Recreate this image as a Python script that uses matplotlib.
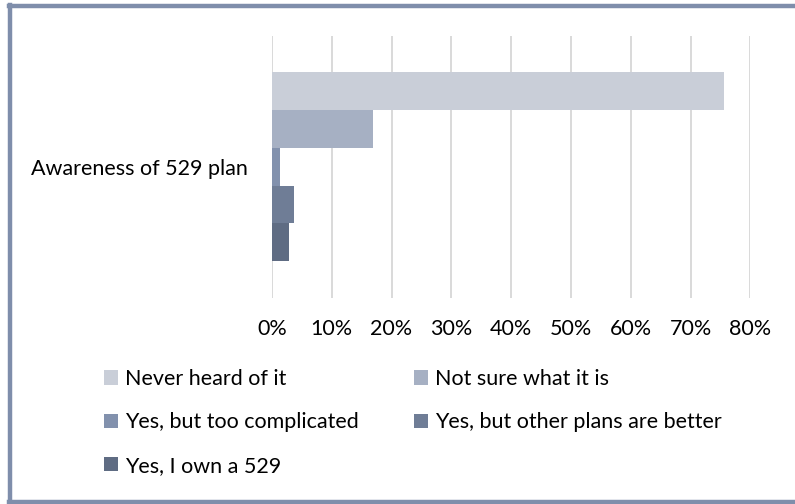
import matplotlib.pyplot as plt
from matplotlib.lines import Line2D

plt.rcParams['font.family'] = ['Lato', 'DejaVu Sans']

category = ['Awareness of 529 plan']
series = ['Never heard of it', 'Not sure what it is', 'Yes, but too complicated',
          'Yes, but other plans are better', 'Yes, I own a 529']
values = [0.756, 0.169, 0.013, 0.037, 0.028]
colors = ['#c9ced8', '#a6b0c3', '#8291ad', '#6f7d96', '#5f6c83']
xticks = [0, 0.1, 0.2, 0.3, 0.4, 0.5, 0.6, 0.7, 0.8]

fs = 15.5
fig = plt.figure(figsize=(7.95, 5.04), dpi=100)
ax = fig.add_axes([0.342, 0.409, 0.602, 0.52])

h = 0.144
bars = []
for i, (s, v, c) in enumerate(zip(series, values, colors)):
    y = 2 * h - i * h
    b = ax.barh(y, v, height=h, color=c, label=s, zorder=3)
    bars.append(b)

ax.set_ylim(-0.5, 0.5)
ax.set_xlim(0, 0.8)
ax.set_yticks([0])
ax.set_yticklabels(category)
ax.set_xticks(xticks)
ax.set_xticklabels([f'{int(round(t * 100))}%' for t in xticks])
ax.tick_params(length=0, labelsize=fs, colors='#000000')
ax.tick_params(axis='x', pad=15)
ax.tick_params(axis='y', pad=17)
ax.grid(axis='x', color='#d9d9d9', linewidth=1.4, zorder=0)
for s in ['top', 'right', 'bottom', 'left']:
    ax.spines[s].set_visible(False)

# legend laid out as two columns, row by row like the original
leg_kw = dict(loc='upper left', frameon=False, fontsize=fs, handlelength=0.65,
              handleheight=0.65, handletextpad=0.3, labelspacing=1.09,
              borderaxespad=0, borderpad=0)
col1 = [0, 2, 4]
col2 = [1, 3]
fig.legend([bars[i] for i in col1], [series[i] for i in col1],
           bbox_to_anchor=(0.131, 0.268), **leg_kw)
fig.legend([bars[i] for i in col2], [series[i] for i in col2],
           bbox_to_anchor=(0.521, 0.268), **leg_kw)

# outer chart border
bc = '#7f8eab'
fig.add_artist(Line2D([0.0132, 0.0132], [0.0, 0.990], color=bc, linewidth=3.2))
fig.add_artist(Line2D([0.0113, 1.0], [0.988, 0.988], color=bc, linewidth=3.2))
fig.add_artist(Line2D([0.0113, 1.0], [0.0035, 0.0035], color=bc, linewidth=3.2))

fig.savefig('out.png', dpi=100)
